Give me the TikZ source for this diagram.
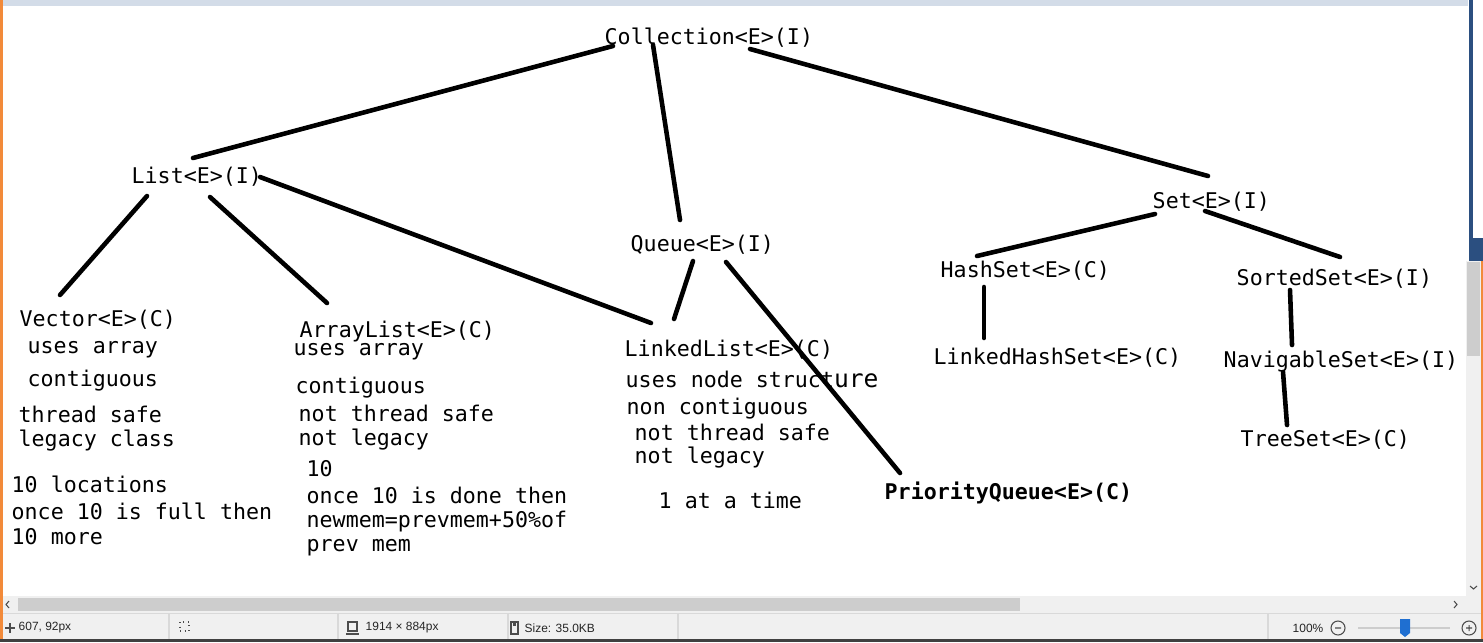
\documentclass[tikz,border=0pt]{standalone}
\usepackage{fontspec}
\newfontfamily\codefont{DejaVu Sans Mono}
\newfontfamily\uifont{Liberation Sans}
\newcommand\codesize{\fontsize{6.15}{7}\selectfont}
\definecolor{paintorange}{HTML}{F28A3A}
\definecolor{topstrip}{HTML}{D3DCE8}
\definecolor{winblue}{HTML}{2B4F80}
\definecolor{barbg}{HTML}{F0F0F0}
\definecolor{barthumb}{HTML}{CDCDCD}
\definecolor{barline}{HTML}{D9D9D9}
\definecolor{sliderblue}{HTML}{1F6FD1}
\tikzset{
  txt/.style={anchor=west, inner sep=0pt, font=\codefont\codesize},
  link/.style={line width=1.3pt, line cap=round},
  ui/.style={anchor=west, inner sep=0pt, font=\uifont\fontsize{3.4}{4}\selectfont, text=black!85},
  uiline/.style={black!70, line width=0.3pt},
}
\begin{document}
\begin{tikzpicture}[x=0.01cm, y=-0.01cm]
\useasboundingbox (0,0) rectangle (1483,642);
\fill[white] (0,0) rectangle (1483,642);

% window frame
\fill[topstrip] (0,0) rectangle (1468,6);
\fill[paintorange] (0,0) rectangle (3,642);
\draw[winblue, line width=1pt] (1471,0) -- (1471,238);
\fill[winblue] (1469,238) rectangle (1483,261);
\fill[barbg] (1466,261) rectangle (1481,596);
\fill[barthumb] (1467,262) rectangle (1480,356);
\fill[paintorange] (1481,261) rectangle (1483,642);
\draw[uiline] (1470,586) -- (1473.5,589) -- (1477,586);
\fill[barbg] (3,596) rectangle (1481,640);
\fill[barthumb] (18,598) rectangle (1020,611);
\draw[uiline] (9,601) -- (6,604.5) -- (9,608);
\draw[uiline] (1454,601) -- (1457,604.5) -- (1454,608);
\draw[barline, line width=0.4pt] (3,613.5) -- (1481,613.5);
\draw[barline, line width=0.4pt] (169,614) -- (169,639) (338,614) -- (338,639)
  (508,614) -- (508,639) (678,614) -- (678,639) (1268,614) -- (1268,639);
\fill[black!75] (0,639) rectangle (1483,642);

% status bar
\draw[uiline] (5,628) -- (15,628) (10,623) -- (10,633);
\node[ui] (stpos) at (18,628) {607, 92px};
\draw[uiline, densely dotted] (180,622) rectangle (189,631);
\draw[uiline] (348,622) rectangle (357,631) (346,634) -- (359,634);
\node[ui] (stsize) at (365,628) {1914 × 884px};
\draw[uiline] (511,622) rectangle (518,634);
\fill[black!70] (513,622) rectangle (516,626);
\node[ui] (stfile) at (524,628) {Size: 35.0KB};
\node[ui] (stzoom) at (1292,628) {100\%};
\draw[uiline] (1338,628) circle (7) (1335,628) -- (1341,628);
\draw[barthumb, line width=0.8pt] (1358,628) -- (1450,628);
\fill[sliderblue] (1400,619) -- (1410,619) -- (1410,633) -- (1405,637) -- (1400,633) -- cycle;
\draw[uiline] (1469,628) circle (7) (1466,628) -- (1472,628) (1469,625) -- (1469,631);

% hierarchy
\node[txt] (coll) at (604,38) {Collection<E>(I)};
\node[txt] (list) at (131,177) {List<E>(I)};
\node[txt] (queue) at (630,245) {Queue<E>(I)};
\node[txt] (set) at (1152,202) {Set<E>(I)};

\node[txt] (vector) at (19,320) {Vector<E>(C)};
\node[txt] (vec1) at (27,350) {uses array};
\node[txt] (vec2) at (27,381) {contiguous};
\node[txt] (vec3) at (18,414) {thread safe};
\node[txt] (vec4) at (18,441) {legacy class};
\node[txt] (vec5) at (11,484) {10 locations};
\node[txt] (vec6) at (11,511) {once 10 is full then};
\node[txt] (vec7) at (11,537) {10 more};

\node[txt] (arrlist) at (299,332) {ArrayList<E>(C)};
\node[txt] (arr1) at (293,352) {uses array};
\node[txt] (arr2) at (295,388) {contiguous};
\node[txt] (arr3) at (298,413) {not thread safe};
\node[txt] (arr4) at (298,440) {not legacy};
\node[txt] (arr5) at (306,469) {10};
\node[txt] (arr6) at (306,495) {once 10 is done then};
\node[txt] (arr7) at (306,522) {newmem=prevmem+50\%of};
\node[txt] (arr8) at (306,548) {prev mem};

\node[txt] (linked) at (624,350) {LinkedList<E>(C)};
\node[txt] (lnk1) at (625,379) {uses node struct{\fontsize{7}{8}\selectfont ure}};
\node[txt] (lnk2) at (626,409) {non contiguous};
\node[txt] (lnk3) at (634,432) {not thread safe};
\node[txt] (lnk4) at (634,458) {not legacy};
\node[txt] (lnk5) at (658,500) {1 at a time};

\node[txt, font=\codefont\bfseries\codesize] (prio) at (884,493) {PriorityQueue<E>(C)};

\node[txt] (hash) at (940,271) {HashSet<E>(C)};
\node[txt] (lhash) at (933,358) {LinkedHashSet<E>(C)};
\node[txt] (sorted) at (1236,279) {SortedSet<E>(I)};
\node[txt] (navig) at (1223,362) {NavigableSet<E>(I)};
\node[txt] (tree) at (1240,440) {TreeSet<E>(C)};

\draw[link] ([shift={(9,8)}]coll.west) -- ([shift={(62,-19)}]list.west);
\draw[link] ([shift={(49,7)}]coll.west) -- ([shift={(50,-25)}]queue.west);
\draw[link] ([shift={(146,11)}]coll.west) -- ([shift={(56,-26)}]set.west);
\draw[link] ([shift={(16,19)}]list.west) -- ([shift={(41,-25)}]vector.west);
\draw[link] ([shift={(79,20)}]list.west) -- ([shift={(28,-29)}]arrlist.west);
\draw[link] ([shift={(129,0)}]list.west) -- ([shift={(27,-27)}]linked.west);
\draw[link] ([shift={(63,16)}]queue.west) -- ([shift={(50,-31)}]linked.west);
\draw[link] ([shift={(96,17)}]queue.west) -- ([shift={(16,-20)}]prio.west);
\draw[link] ([shift={(3,12)}]set.west) -- ([shift={(37,-15)}]hash.west);
\draw[link] ([shift={(53,9)}]set.west) -- ([shift={(104,-22)}]sorted.west);
\draw[link] ([shift={(44,16)}]hash.west) -- ([shift={(51,-20)}]lhash.west);
\draw[link] ([shift={(54,11)}]sorted.west) -- ([shift={(69,-17)}]navig.west);
\draw[link] ([shift={(60,10)}]navig.west) -- ([shift={(47,-15)}]tree.west);
\end{tikzpicture}
\end{document}
